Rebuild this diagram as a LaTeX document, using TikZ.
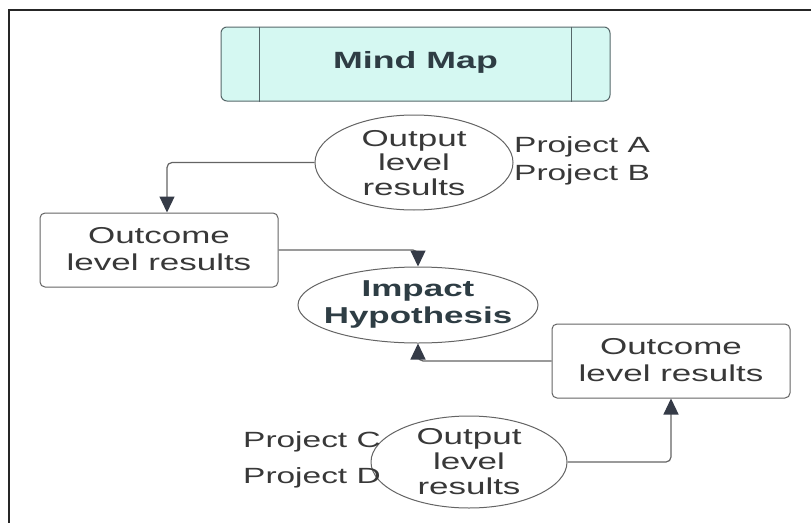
\documentclass[tikz,border=0pt]{standalone}
\usepackage{fontspec}
\setmainfont{Liberation Sans}
\newfontfamily\widefont[FakeStretch=1.52]{Liberation Sans}
\usetikzlibrary{arrows.meta,shapes.geometric}
\definecolor{txt}{HTML}{383838}
\definecolor{titletxt}{HTML}{2E3D44}
\definecolor{edge}{HTML}{646464}
\definecolor{arrowc}{HTML}{353B47}
\definecolor{mint}{HTML}{D5F8F2}
\definecolor{mintedge}{HTML}{56686A}
\tikzset{
  lbl/.style={font=\widefont\fontsize{23}{26}\selectfont, text=txt, align=center, inner sep=0pt},
  boldlbl/.style={font=\widefont\bfseries\fontsize{23}{27}\selectfont, text=titletxt, align=center, inner sep=0pt},
  oval/.style={ellipse, draw=edge, line width=1pt, inner sep=0pt},
  resultbox/.style={rectangle, rounded corners=5pt, draw=edge, line width=1pt, inner sep=0pt},
  conn/.style={draw=edge, line width=1.2pt, rounded corners=5pt, -{Triangle[length=16pt,width=15pt,fill=arrowc,color=arrowc]}},
}
\begin{document}
\begin{tikzpicture}[x=1pt,y=-1pt]
\useasboundingbox (0,0) rectangle (811,522);
\fill[white] (0,0) rectangle (811,522);
% outer frame (only left and top visible)
\draw[line width=2.2pt, black!85] (9,540) -- (9,10) -- (830,10);

% title box
\node[rectangle, rounded corners=6pt, draw=mintedge, fill=mint, line width=1pt,
      minimum width=389pt, minimum height=74pt, inner sep=0pt] (title) at (415.5,64) {};
\draw[mintedge, line width=1pt] ([xshift=39pt]title.north west) -- ([xshift=39pt]title.south west);
\draw[mintedge, line width=1pt] ([xshift=-39pt]title.north east) -- ([xshift=-39pt]title.south east);
\node[boldlbl, font=\widefont\bfseries\fontsize{23.5}{28}\selectfont] (titletext) at (415.5,62) {Mind Map};

% top output ellipse
\node[oval, minimum width=198pt, minimum height=95pt] (o1) at (414,162.5) {};
\node[lbl, font=\widefont\fontsize{23}{24.5}\selectfont] (o1t) at (414,163) {Output\\level\\results};
\node[lbl, anchor=base west, font=\widefont\fontsize{22}{26}\selectfont] (pa) at (514,152) {Project A};
\node[lbl, anchor=base west, font=\widefont\fontsize{22}{26}\selectfont] (pb) at (514,180) {Project B};

% left outcome box
\node[resultbox, minimum width=238pt, minimum height=74pt] (b1) at (159,250) {};
\node[lbl, font=\widefont\fontsize{23}{27}\selectfont] (b1t) at (159,249) {Outcome\\level results};

% impact ellipse
\node[oval, minimum width=240pt, minimum height=76pt] (imp) at (418,305) {};
\node[boldlbl] (impt) at (418,304) {Impact\\Hypothesis};

% right outcome box
\node[resultbox, minimum width=238pt, minimum height=74pt] (b2) at (671,361) {};
\node[lbl, font=\widefont\fontsize{23}{27}\selectfont] (b2t) at (671,360) {Outcome\\level results};

% bottom output ellipse
\node[oval, minimum width=196pt, minimum height=92pt] (o2) at (469,462) {};
\node[lbl, font=\widefont\fontsize{23}{25}\selectfont] (o2t) at (469,462) {Output\\level\\results};
\node[lbl, anchor=base west, font=\widefont\fontsize{22}{26}\selectfont] (pc) at (243,447) {Project C};
\node[lbl, anchor=base west, font=\widefont\fontsize{22}{26}\selectfont] (pd) at (243,483) {Project D};

% connectors
\coordinate (b1in) at ([xshift=8pt]b1.north);
\draw[conn] (o1.west) -| (b1in);
\draw[conn] (b1.east) -| (imp.north);
\draw[conn] (b2.west) -| (imp.south);
\draw[conn] (o2.east) -| (b2.south);
\end{tikzpicture}
\end{document}
